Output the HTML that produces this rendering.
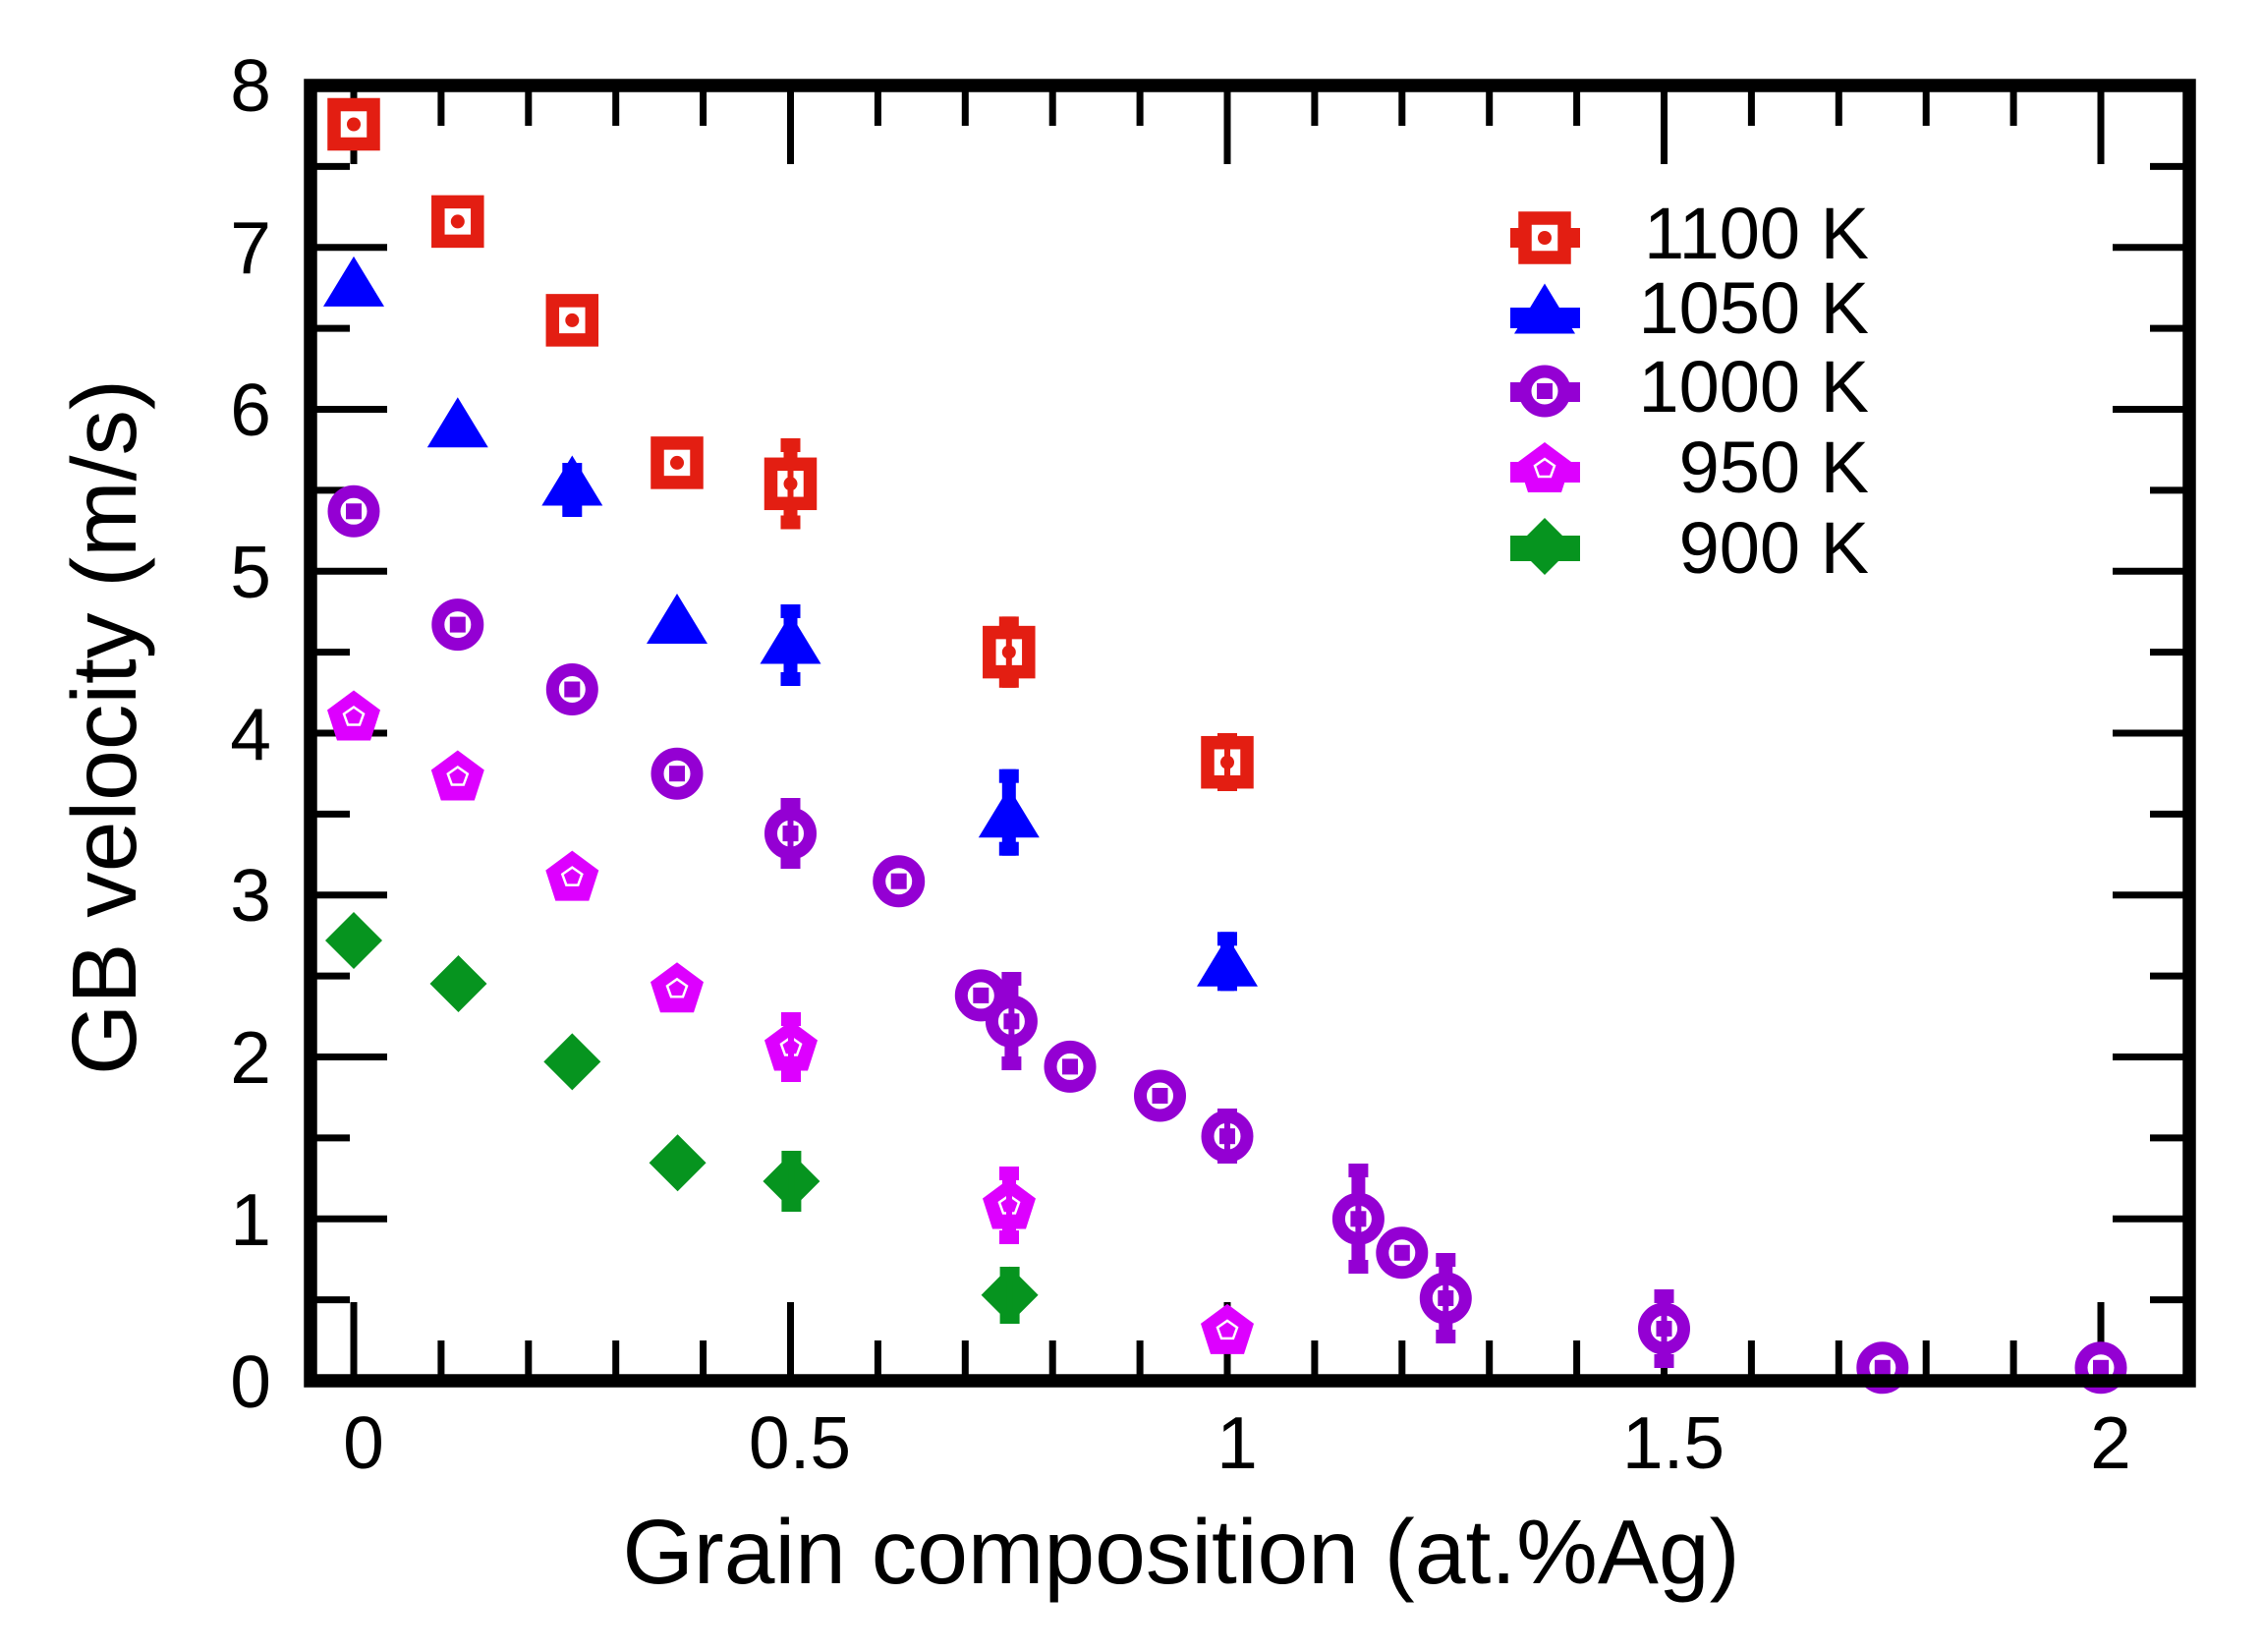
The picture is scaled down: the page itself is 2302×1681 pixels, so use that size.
<!DOCTYPE html>
<html><head><meta charset="utf-8"><style>
html,body{margin:0;padding:0;background:#fff}
svg{display:block}
text{font-family:"Liberation Sans",Arial,sans-serif;fill:#000}
</style></head><body>
<svg width="2302" height="1681" viewBox="0 0 2302 1681" xmlns="http://www.w3.org/2000/svg">
<defs>
<g id="sq"><rect x="-20" y="-20" width="40" height="40" fill="#fff" stroke="#e31e12" stroke-width="13.5"/><circle r="7" fill="#e31e12"/></g>
<g id="tri"><polygon points="0,-25.5 31,25.5 -31,25.5" fill="#0000ff"/></g>
<g id="cir"><circle r="20" fill="#fff" stroke="#9400d3" stroke-width="13"/><rect x="-8" y="-8" width="16" height="16" fill="#9400d3"/></g>
<g id="pen"><polygon points="0,-27 27,-7 17,24 -17,24 -27,-7" fill="#dd00ff"/><polygon points="0,-10 10,-3 6,8 -6,8 -10,-3" fill="none" stroke="#fff" stroke-width="2.5"/></g>
<g id="dia"><polygon points="0,-29 29,0 0,29 -29,0" fill="#06941f"/></g>
</defs>

<g stroke="#000" stroke-width="7">
<path d="M360,1405v-80M360,87v80 M448.9,1405v-41M448.9,87v41 M537.8,1405v-41M537.8,87v41 M626.7,1405v-41M626.7,87v41 M715.6,1405v-41M715.6,87v41 M804.5,1405v-80M804.5,87v80 M893.4,1405v-41M893.4,87v41 M982.3,1405v-41M982.3,87v41 M1071.2,1405v-41M1071.2,87v41 M1160.1,1405v-41M1160.1,87v41 M1249,1405v-80M1249,87v80 M1337.9,1405v-41M1337.9,87v41 M1426.8,1405v-41M1426.8,87v41 M1515.7,1405v-41M1515.7,87v41 M1604.6,1405v-41M1604.6,87v41 M1693.5,1405v-80M1693.5,87v80 M1782.4,1405v-41M1782.4,87v41 M1871.3,1405v-41M1871.3,87v41 M1960.2,1405v-41M1960.2,87v41 M2049.1,1405v-41M2049.1,87v41 M2138,1405v-80M2138,87v80"/>
<path d="M316,1240.3h78M2228,1240.3h-78 M316,1075.5h78M2228,1075.5h-78 M316,910.8h78M2228,910.8h-78 M316,746h78M2228,746h-78 M316,581.3h78M2228,581.3h-78 M316,416.5h78M2228,416.5h-78 M316,251.8h78M2228,251.8h-78
M316,1322.6h40M2228,1322.6h-40 M316,1157.9h40M2228,1157.9h-40 M316,993.1h40M2228,993.1h-40 M316,828.4h40M2228,828.4h-40 M316,663.6h40M2228,663.6h-40 M316,498.9h40M2228,498.9h-40 M316,334.1h40M2228,334.1h-40 M316,169.4h40M2228,169.4h-40"/>
</g>

<g>
<g fill="#e31e12">
<rect x="797.5" y="446" width="14" height="92.5"/><rect x="794.5" y="446" width="20" height="14"/><rect x="794.5" y="524.5" width="20" height="14"/>
<rect x="1019.8" y="627.4" width="14" height="72.4"/><rect x="1016.8" y="627.4" width="20" height="14"/><rect x="1016.8" y="685.8" width="20" height="14"/>
<rect x="1242" y="746" width="14" height="59"/><rect x="1239" y="746" width="20" height="14"/><rect x="1239" y="791" width="20" height="14"/>
</g>
<g fill="#0000ff">
<rect x="575.3" y="471" width="14" height="55"/><rect x="572.3" y="471" width="20" height="14"/><rect x="572.3" y="512" width="20" height="14"/>
<rect x="797.5" y="615" width="14" height="83"/><rect x="794.5" y="615" width="20" height="14"/><rect x="794.5" y="684" width="20" height="14"/>
<rect x="1019.8" y="782.7" width="14" height="88"/><rect x="1016.8" y="782.7" width="20" height="14"/><rect x="1016.8" y="856.7" width="20" height="14"/>
<rect x="1242" y="948.3" width="14" height="60"/><rect x="1239" y="948.3" width="20" height="14"/><rect x="1239" y="994.3" width="20" height="14"/>
</g>
<g fill="#9400d3">
<rect x="797.5" y="812" width="14" height="72"/><rect x="794.5" y="812" width="20" height="14"/><rect x="794.5" y="870" width="20" height="14"/>
<rect x="1022.4" y="989" width="14" height="100"/><rect x="1019.4" y="989" width="20" height="14"/><rect x="1019.4" y="1075" width="20" height="14"/>
<rect x="1242" y="1128" width="14" height="56"/><rect x="1239" y="1128" width="20" height="14"/><rect x="1239" y="1170" width="20" height="14"/>
<rect x="1375.4" y="1184" width="14" height="112"/><rect x="1372.4" y="1184" width="20" height="14"/><rect x="1372.4" y="1282" width="20" height="14"/>
<rect x="1464.3" y="1275" width="14" height="92"/><rect x="1461.3" y="1275" width="20" height="14"/><rect x="1461.3" y="1353" width="20" height="14"/>
<rect x="1686.5" y="1312" width="14" height="80"/><rect x="1683.5" y="1312" width="20" height="14"/><rect x="1683.5" y="1378" width="20" height="14"/>
</g>
<g fill="#dd00ff">
<rect x="798" y="1030" width="14" height="71"/><rect x="795" y="1030" width="20" height="14"/><rect x="795" y="1087" width="20" height="14"/>
<rect x="1020" y="1187" width="14" height="79"/><rect x="1017" y="1187" width="20" height="14"/><rect x="1017" y="1252" width="20" height="14"/>
</g>
<g fill="#06941f">
<rect x="798.4" y="1171" width="14" height="62"/><rect x="795.4" y="1171" width="20" height="14"/><rect x="795.4" y="1219" width="20" height="14"/>
<rect x="1020.6" y="1289" width="14" height="58"/><rect x="1017.6" y="1289" width="20" height="14"/><rect x="1017.6" y="1333" width="20" height="14"/>
</g>
</g>

<use href="#sq" x="360" y="126.5"/><use href="#sq" x="465.8" y="225.4"/><use href="#sq" x="582.3" y="325.9"/><use href="#sq" x="689" y="470.9"/><use href="#sq" x="804.5" y="492.3"/><use href="#sq" x="1026.8" y="663.6"/><use href="#sq" x="1249" y="775.7"/>
<use href="#tri" x="360" y="286.4"/><use href="#tri" x="465.8" y="429.7"/><use href="#tri" x="582.3" y="489"/><use href="#tri" x="689" y="629.5"/><use href="#tri" x="804.5" y="650"/><use href="#tri" x="1026.8" y="826.7"/><use href="#tri" x="1249" y="978.3"/>
<use href="#cir" x="360" y="520.3"/><use href="#cir" x="465.8" y="635.6"/><use href="#cir" x="582.3" y="701.5"/><use href="#cir" x="689" y="787.2"/><use href="#cir" x="804.5" y="848.1"/><use href="#cir" x="914.7" y="896.7"/><use href="#cir" x="998.3" y="1012.9"/><use href="#cir" x="1029.4" y="1039.3"/><use href="#cir" x="1089" y="1085.4"/><use href="#cir" x="1180.5" y="1115"/><use href="#cir" x="1249" y="1156.2"/><use href="#cir" x="1382.4" y="1240.3"/><use href="#cir" x="1426.8" y="1274.8"/><use href="#cir" x="1471.3" y="1321"/><use href="#cir" x="1693.5" y="1352"/><use href="#cir" x="1915.8" y="1391.8"/><use href="#cir" x="2138" y="1391.8"/>
<use href="#pen" x="360" y="729.5"/><use href="#pen" x="465.8" y="790.5"/><use href="#pen" x="582.3" y="892.6"/><use href="#pen" x="689" y="1006.3"/><use href="#pen" x="805" y="1065.5"/><use href="#pen" x="1027" y="1226.5"/><use href="#pen" x="1249" y="1353.9"/>
<use href="#dia" x="360" y="957"/><use href="#dia" x="466.5" y="1001"/><use href="#dia" x="582.3" y="1080.4"/><use href="#dia" x="689.6" y="1183.3"/><use href="#dia" x="805.4" y="1202"/><use href="#dia" x="1027.6" y="1317.7"/>

<g stroke-width="6">
<path stroke="#e31e12" d="M804.5,470v45M1026.8,641v45M1249,760v31"/>
<path stroke="#9400d3" d="M804.5,826v44M1029.4,1003v72M1249,1142v28M1382.4,1198v84M1471.3,1289v64M1693.5,1326v52"/>
<path stroke="#dd00ff" d="M805,1044v43M1027,1201v51"/>
<path stroke="#06941f" d="M805.4,1185v34M1027.6,1303v30"/>
</g>

<rect x="316" y="87" width="1912" height="1318" fill="none" stroke="#000" stroke-width="13.5"/>

<g font-size="75" text-anchor="end">
<text x="276" y="1432">0</text><text x="276" y="1267">1</text><text x="276" y="1102">2</text><text x="276" y="937">3</text><text x="276" y="773">4</text><text x="276" y="608">5</text><text x="276" y="443">6</text><text x="276" y="278">7</text><text x="276" y="113">8</text>
</g>
<g font-size="75" text-anchor="middle">
<text x="370" y="1494">0</text><text x="814" y="1494">0.5</text><text x="1259" y="1494">1</text><text x="1703" y="1494">1.5</text><text x="2148" y="1494">2</text>
</g>

<text x="1202" y="1611" font-size="93" text-anchor="middle">Grain composition (at.%Ag)</text>
<text transform="translate(138,740) rotate(-90)" font-size="93" text-anchor="middle">GB velocity (m/s)</text>

<g font-size="74" text-anchor="end">
<text x="1902" y="263">1100 K</text><text x="1902" y="339">1050 K</text><text x="1902" y="419">1000 K</text><text x="1902" y="501">950 K</text><text x="1902" y="583">900 K</text>
</g>
<rect x="1537" y="232" width="71" height="20" fill="#e31e12"/><use href="#sq" x="1572" y="242"/>
<rect x="1537" y="313" width="71" height="21" fill="#0000ff"/><use href="#tri" x="1572" y="314"/>
<rect x="1537" y="389" width="71" height="20" fill="#9400d3"/><use href="#cir" x="1572" y="398"/>
<rect x="1537" y="470" width="71" height="21" fill="#dd00ff"/><use href="#pen" x="1572" y="477"/>
<rect x="1537" y="545" width="71" height="26" fill="#06941f"/><use href="#dia" x="1572" y="556"/>
</svg>
</body></html>
